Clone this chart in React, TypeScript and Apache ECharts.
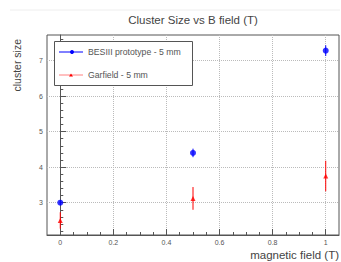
import React, { useEffect, useRef } from "react";
import * as echarts from "echarts";

const fieldValues = [0, 0.5, 1];
const besiiiSize = [3.0, 4.4, 7.28];
const besiiiErr = [0.06, 0.12, 0.15];
const garfieldSize = [2.5, 3.12, 3.75];
const garfieldErr = [0.23, 0.32, 0.43];
const xMajorTicks = [0, 0.2, 0.4, 0.6, 0.8, 1];
const yMajorTicks = [3, 4, 5, 6, 7];
const xMinorTicks: number[] = [];
for (let i = 0; i <= 20; i++) xMinorTicks.push(Math.round(i * 5) / 100);
const yMinorTicks: number[] = [];
for (let i = 11; i <= 38; i++) yMinorTicks.push(Math.round(i * 2) / 10);

const FONT = "Liberation Sans, Arial, sans-serif";

function errorSeries(name: string, color: string, xs: number[], ys: number[], es: number[]) {
  return {
    type: "custom",
    name: name + "-err",
    xAxisIndex: 0,
    yAxisIndex: 0,
    data: xs.map((x, i) => [x, ys[i] - es[i], ys[i] + es[i]]),
    renderItem: (params: any, api: any) => {
      const p1 = api.coord([api.value(0), api.value(1)]);
      const p2 = api.coord([api.value(0), api.value(2)]);
      return {
        type: "line",
        shape: { x1: p1[0], y1: p1[1], x2: p2[0], y2: p2[1] },
        style: { stroke: color, lineWidth: 1 },
      };
    },
    z: 3,
  };
}

export default function App() {
  const ref = useRef<HTMLDivElement>(null);
  useEffect(() => {
    const chart = echarts.init(ref.current!, null, { renderer: "svg" });
    const axisLabelStyle = { color: "#555", fontSize: 7, fontFamily: FONT };
    chart.setOption({
      animation: false,
      backgroundColor: "#fff",
      grid: {
        left: 47,
        right: 2,
        top: 35,
        bottom: 27,
        show: true,
        borderColor: "#555",
        borderWidth: 1,
        backgroundColor: "transparent",
      },
      xAxis: [
        {
          type: "value",
          min: -0.05,
          max: 1.05,
          axisLine: { show: true, lineStyle: { color: "#555" } },
          axisTick: { show: true, inside: true, length: 6, customValues: xMajorTicks, lineStyle: { color: "#555" } },
          axisLabel: { show: true, customValues: xMajorTicks, margin: 4, ...axisLabelStyle, formatter: (v: number) => String(+v.toFixed(1)) },
          splitLine: { show: true, lineStyle: { color: "#bbb", type: [1, 1], width: 1 } },
        },
        {
          type: "value",
          min: -0.05,
          max: 1.05,
          position: "bottom",
          axisLine: { show: false },
          axisTick: { show: true, inside: true, length: 3, customValues: xMinorTicks, lineStyle: { color: "#555" } },
          axisLabel: { show: false },
          splitLine: { show: false },
        },
      ],
      yAxis: [
        {
          type: "value",
          min: 2.09,
          max: 7.72,
          axisLine: { show: true, lineStyle: { color: "#555" } },
          axisTick: { show: true, inside: true, length: 6, customValues: yMajorTicks, lineStyle: { color: "#555" } },
          axisLabel: { show: true, customValues: yMajorTicks, margin: 4, ...axisLabelStyle },
          splitLine: { show: true, lineStyle: { color: "#bbb", type: [1, 1], width: 1 } },
        },
        {
          type: "value",
          min: 2.09,
          max: 7.72,
          position: "left",
          axisLine: { show: false },
          axisTick: { show: true, inside: true, length: 3, customValues: yMinorTicks, lineStyle: { color: "#555" } },
          axisLabel: { show: false },
          splitLine: { show: false },
        },
      ],
      series: [
        errorSeries("BESIII", "#0000ff", fieldValues, besiiiSize, besiiiErr),
        errorSeries("Garfield", "#ff0000", fieldValues, garfieldSize, garfieldErr),
        {
          type: "scatter",
          name: "BESIII prototype - 5 mm",
          data: fieldValues.map((x, i) => [x, besiiiSize[i]]),
          symbol: "circle",
          symbolSize: 6,
          itemStyle: { color: "#0000ff" },
          z: 4,
        },
        {
          type: "scatter",
          name: "Garfield - 5 mm",
          data: fieldValues.map((x, i) => [x, garfieldSize[i]]),
          symbol: "triangle",
          symbolSize: 5,
          itemStyle: { color: "#ff0000" },
          z: 4,
        },
      ],
      graphic: [
        {
          type: "line",
          shape: { x1: 10, y1: 10, x2: 340, y2: 10 },
          style: { stroke: "#eee", lineWidth: 1 },
        },
        {
          type: "text",
          x: 193,
          y: 20,
          style: { text: "Cluster Size vs B field (T)", fill: "#444", fontSize: 11.5, fontFamily: FONT, align: "center", verticalAlign: "middle" },
        },
        {
          type: "text",
          x: 17,
          y: 39,
          rotation: Math.PI / 2,
          style: { text: "cluster size", fill: "#444", fontSize: 10.5, fontFamily: FONT, align: "right", verticalAlign: "middle" },
        },
        {
          type: "text",
          x: 339,
          y: 255,
          style: { text: "magnetic field (T)", fill: "#444", fontSize: 11.5, fontFamily: FONT, align: "right", verticalAlign: "middle" },
        },
        {
          type: "rect",
          shape: { x: 54.5, y: 41.5, width: 138, height: 44 },
          style: { fill: "#fff", stroke: "#555", lineWidth: 1 },
          z: 10,
        },
        {
          type: "line",
          shape: { x1: 59, y1: 52, x2: 83, y2: 52 },
          style: { stroke: "#0000ff", lineWidth: 1 },
          z: 11,
        },
        {
          type: "circle",
          shape: { cx: 72, cy: 52, r: 2 },
          style: { fill: "#0000ff" },
          z: 11,
        },
        {
          type: "text",
          x: 88,
          y: 52,
          style: { text: "BESIII prototype - 5 mm", fill: "#555", fontSize: 8.7, fontFamily: FONT, align: "left", verticalAlign: "middle" },
          z: 11,
        },
        {
          type: "line",
          shape: { x1: 59, y1: 75, x2: 83, y2: 75 },
          style: { stroke: "#ff8080", lineWidth: 1 },
          z: 11,
        },
        {
          type: "polygon",
          shape: { points: [[71, 73.5], [73, 76.5], [69, 76.5]] },
          style: { fill: "#ff0000" },
          z: 11,
        },
        {
          type: "text",
          x: 88,
          y: 75,
          style: { text: "Garfield - 5 mm", fill: "#555", fontSize: 8.7, fontFamily: FONT, align: "left", verticalAlign: "middle" },
          z: 11,
        },
      ],
    });
    return () => chart.dispose();
  }, []);
  return <div ref={ref} style={{ position: "fixed", left: 0, top: 0, width: 341, height: 262 }} />;
}
